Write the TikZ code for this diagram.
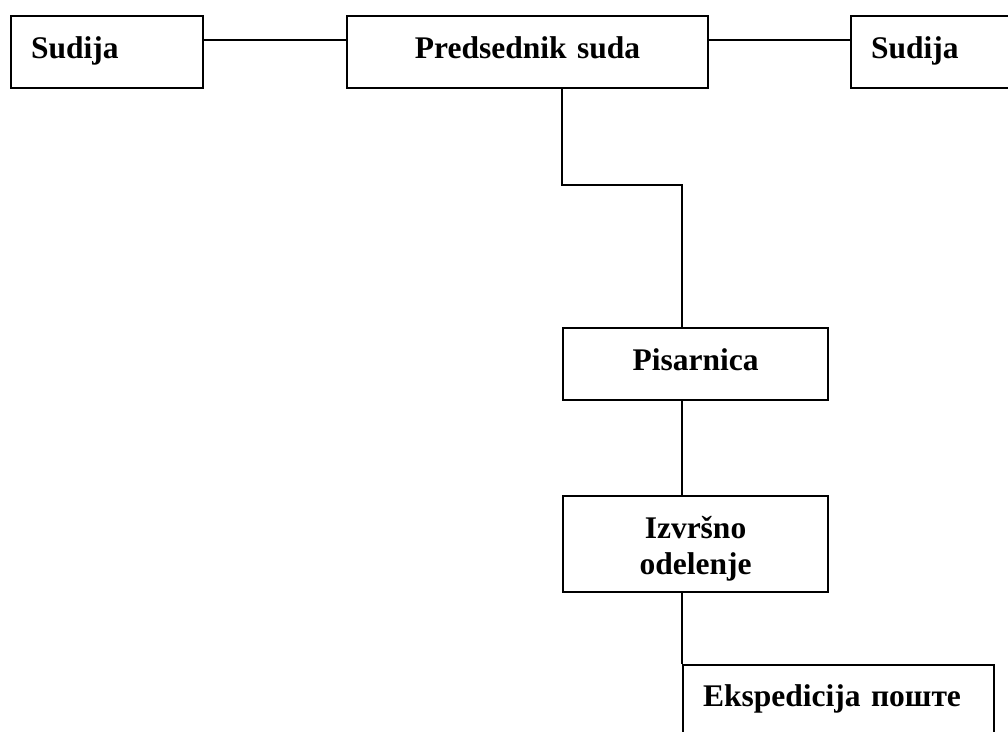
\documentclass[tikz,border=0pt]{standalone}
\usepackage{fontspec}
\setmainfont{Liberation Serif}
\begin{document}
\begin{tikzpicture}[x=1pt,y=-1pt,
  box/.style={draw, line width=2pt, inner xsep=20pt, inner ysep=0pt, anchor=north west,
    font=\fontsize{31.5}{36}\selectfont\bfseries, text height=22pt, text depth=10pt},
  lbox/.style={box, align=left},
  cbox/.style={box, align=center},
  conn/.style={line width=2pt}]
\useasboundingbox (0,0) rectangle (1008,731);
\clip (0,0) rectangle (1008,731);
\node[lbox, text width=152pt, minimum height=72pt] (s1) at (10,15) {Sudija};
\node[cbox, text width=321pt, minimum height=72pt] (pred) at (346,15) {Predsednik suda};
\node[lbox, text width=160pt, minimum height=72pt] (s2) at (850,15) {Sudija};
\node[cbox, text width=225pt, minimum height=72pt] (pis) at (562,327) {Pisarnica};
\node[cbox, text width=225pt, minimum height=96pt, text height=22pt, text depth=34pt] (izv) at (562,495) {Izvršno\\odelenje};
\node[lbox, text width=271pt, minimum height=70pt] (eksp) at (682,664) {Ekspedicija поште};
\draw[conn] ([yshift=12pt]s1.east) -- ([yshift=12pt]pred.west);
\draw[conn] ([yshift=12pt]pred.east) -- ([yshift=12pt]s2.west);
\draw[conn] ([xshift=216pt]pred.south west) -- ++(0,96) -| ([xshift=120pt]pis.north west);
\draw[conn] ([xshift=120pt]pis.south west) -- ([xshift=120pt]izv.north west);
\draw[conn] ([xshift=120pt]izv.south west) -- (eksp.north west);
\end{tikzpicture}
\end{document}
